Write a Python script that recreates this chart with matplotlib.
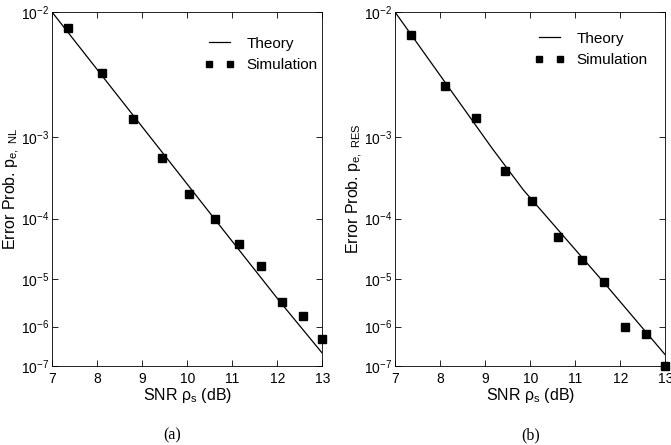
import math
import numpy as np
import matplotlib
matplotlib.use("Agg")
import matplotlib.pyplot as plt
from matplotlib.ticker import FixedLocator, NullLocator
from matplotlib.lines import Line2D

plt.rcParams['font.family'] = ['Liberation Sans', 'DejaVu Sans']
plt.rcParams['mathtext.fontset'] = 'custom'
plt.rcParams['mathtext.rm'] = 'Liberation Sans'
plt.rcParams['mathtext.it'] = 'Liberation Sans'

# data
snr_db = [7.35, 8.12, 8.8, 9.45, 10.05, 10.61, 11.14, 11.64, 12.11, 12.56, 12.99]
sim_nl = [7.9e-3, 3.8e-3, 1.5e-3, 5.9e-4, 2.2e-4, 1.0e-4, 4.0e-5, 1.74e-5, 3.4e-6, 1.77e-6, 5.1e-7]
sim_res = [7.1e-3, 2.94e-3, 1.53e-3, 4.2e-4, 1.76e-4, 5.3e-5, 2.15e-5, 8.7e-6, 9.8e-7, 6.8e-7, 1.0e-7]

theory_nl_db = [7.0, 10.61, 12.07, 13.0]
theory_nl = [1.0e-2, 9.8e-5, 3.4e-6, 2.19e-7]
theory_res_db = [7.0, 9.15, 9.85, 11.65, 13.0]
theory_res = [1.0e-2, 7.65e-4, 2.45e-4, 8.2e-6, 1.98e-7]

yticks = [1e-7, 1e-6, 1e-5, 1e-4, 1e-3, 1e-2]
ytick_labels = ['10$^{\\mathregular{-%d}}$' % k for k in [7, 6, 5, 4, 3, 2]]
xticks = [7, 8, 9, 10, 11, 12, 13]

_erfc = np.vectorize(math.erfc, otypes=[float])


def q_func(x):
    return 0.5 * _erfc(np.asarray(x, dtype=float) / math.sqrt(2))


def q_inv(p):
    p = np.clip(np.asarray(p, dtype=float), 1e-300, 0.4999)
    lo = np.zeros_like(p)
    hi = np.full_like(p, 40.0)
    for _ in range(70):
        mid = 0.5 * (lo + hi)
        big = q_func(mid) > p
        lo = np.where(big, mid, lo)
        hi = np.where(big, hi, mid)
    return 0.5 * (lo + hi)


# axis scaled as -log(Q^-1(p)), like the original figure
def fwd(p):
    return -np.log(q_inv(p))


def inv(s):
    return q_func(np.exp(-np.asarray(s, dtype=float)))


fig = plt.figure(figsize=(6.71, 4.45), dpi=100, facecolor="white")

panels = [
    (0.0775, theory_nl_db, theory_nl, sim_nl,
     'Error Prob. p$_{\\mathregular{e,\\ NL}}$', '(a)', 0.256, (0.982, 0.930)),
    (0.5887, theory_res_db, theory_res, sim_res,
     'Error Prob. p$_{\\mathregular{e,\\ RES}}$', '(b)', 0.791, (0.933, 0.944)),
]

for x0, thx, th, sim, ylab, cap, capx, legpos in panels:
    ax = fig.add_axes([x0, 0.1775, 0.403, 0.7955])
    ax.set_yscale('function', functions=(fwd, inv))
    ax.plot(thx, th, 'k-', lw=0.9)
    ax.plot(snr_db, sim, 'ks', ms=6, clip_on=False)
    ax.set_xlim(7, 13)
    ax.set_ylim(1e-7, 1e-2)
    ax.xaxis.set_major_locator(FixedLocator(xticks))
    ax.set_xticklabels([str(v) for v in xticks])
    ax.yaxis.set_major_locator(FixedLocator(yticks))
    ax.yaxis.set_minor_locator(NullLocator())
    ax.set_yticklabels(ytick_labels)
    ax.tick_params(direction='in', top=True, right=True, length=4,
                   width=0.6, labelsize=10)
    ax.tick_params(axis='y', pad=2)
    ax.tick_params(axis='x', pad=4)
    for sp in ax.spines.values():
        sp.set_linewidth(0.6)
    ax.set_xlabel('SNR ρ$_{\\mathregular{s}}$ (dB)', fontsize=11.5, labelpad=0)
    ax.set_ylabel(ylab, fontsize=11.5, labelpad=-1)

    handles = [Line2D([], [], color='k', lw=0.9),
               Line2D([], [], color='k', marker='s', ls='none', ms=4.5)]
    ax.legend(handles, ['Theory', 'Simulation'], loc='upper right',
              bbox_to_anchor=legpos, borderaxespad=0, borderpad=0,
              frameon=False, numpoints=2, fontsize=11, handlelength=2.0,
              handletextpad=0.75, labelspacing=0.5)

    fig.text(capx, 1 - 435 / 445, cap, ha='center', va='center',
             fontsize=11.5, family='Liberation Serif')

fig.savefig("out.png", dpi=100)
